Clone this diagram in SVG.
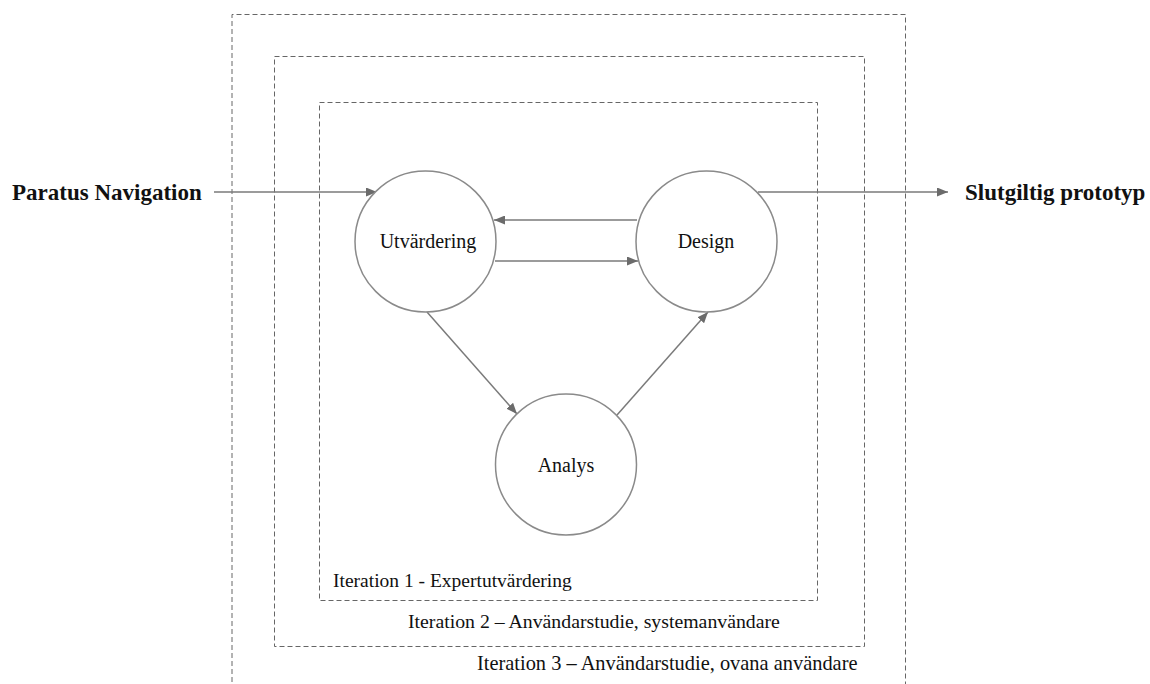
<svg xmlns="http://www.w3.org/2000/svg" width="1150" height="684" viewBox="0 0 1150 684">
  <defs>
    <marker id="arrow" viewBox="0 0 11 9" refX="11" refY="4.5" markerWidth="11" markerHeight="9" markerUnits="userSpaceOnUse" orient="auto">
      <path d="M0,0 L11,4.5 L0,9 Z" fill="#6b6b6b"/>
    </marker>
    <style>
      .frame { fill: none; stroke: #666; stroke-width: 1; stroke-dasharray: 5 3; }
      .node { fill: #fff; stroke: #8a8a8a; stroke-width: 1.5; }
      .edge { fill: none; stroke: #7a7a7a; stroke-width: 1.5; marker-end: url(#arrow); }
      .lbl { font-family: "Liberation Serif", "Times New Roman", serif; font-size: 20px; fill: #111; }
      .big { font-family: "Liberation Serif", "Times New Roman", serif; font-size: 23px; font-weight: bold; fill: #111; }
      .it { font-family: "Liberation Serif", "Times New Roman", serif; font-size: 19.5px; fill: #111; }
    </style>
  </defs>
  <rect width="1150" height="684" fill="#fff"/>

  <!-- iteration frames -->
  <g id="frames">
    <path class="frame" d="M232,690 V14.5 H905.5 V690"/>
    <rect class="frame" x="274.5" y="56.5" width="590" height="590"/>
    <rect class="frame" x="319.5" y="102.5" width="498" height="498"/>
    <text class="it" x="333" y="587">Iteration 1 - Expertutvärdering</text>
    <text class="it" x="408" y="628" style="font-size:19.8px">Iteration 2 – Användarstudie, systemanvändare</text>
    <text class="it" x="477" y="670" style="font-size:20.4px">Iteration 3 – Användarstudie, ovana användare</text>
  </g>

  <!-- connectors -->
  <g id="connectors">
    <line class="edge" x1="214" y1="192" x2="377" y2="192"/>
    <line class="edge" x1="758" y1="192" x2="948" y2="192"/>
    <line class="edge" x1="637" y1="220" x2="494" y2="220"/>
    <line class="edge" x1="495" y1="261" x2="638" y2="261"/>
    <line class="edge" x1="427" y1="312" x2="517" y2="414"/>
    <line class="edge" x1="617" y1="415" x2="708" y2="312"/>
  </g>

  <g id="start">
    <text class="big" x="12" y="200">Paratus Navigation</text>
  </g>
  <g id="end">
    <text class="big" x="965" y="200">Slutgiltig prototyp</text>
  </g>

  <g id="utvardering">
    <circle class="node" cx="425.5" cy="241.5" r="70.5"/>
    <text class="lbl" x="428" y="248" text-anchor="middle">Utvärdering</text>
  </g>
  <g id="design">
    <circle class="node" cx="706.5" cy="241.5" r="70.5"/>
    <text class="lbl" x="706" y="248" text-anchor="middle">Design</text>
  </g>
  <g id="analys">
    <circle class="node" cx="566" cy="464.5" r="70.5"/>
    <text class="lbl" x="566" y="472" text-anchor="middle">Analys</text>
  </g>
</svg>
